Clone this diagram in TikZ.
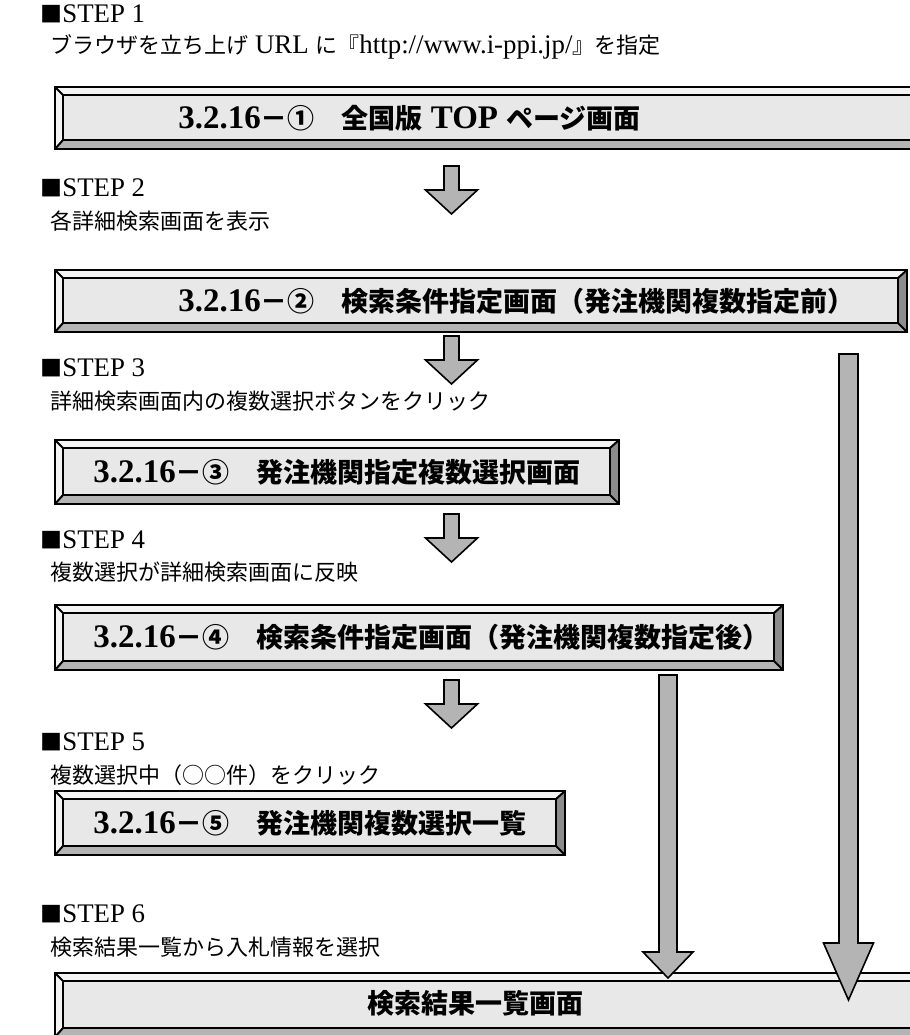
\documentclass[tikz,border=0pt]{standalone}
\usepackage{fontspec}
\setmainfont{Liberation Serif}[Scale=1.22]
\newfontfamily\jp{Noto Sans CJK JP}
\usetikzlibrary{calc}
\definecolor{boxfill}{HTML}{E8E8E8}
\definecolor{bevlight}{HTML}{F4F4F4}
\definecolor{bevdark}{HTML}{8C8C8C}
\definecolor{bevmid}{HTML}{B4B4B4}
\definecolor{arrowfill}{HTML}{B4B4B4}
\tikzset{
  boxline/.style={draw=black,line width=1pt},
  bevnode/.style={fill=boxfill,inner sep=0pt,outer sep=0pt,anchor=north west},
  steptext/.style={anchor=west,inner sep=0pt,font=\fontsize{11}{13}\selectfont},
  boxtext/.style={inner sep=0pt,font=\fontsize{13.5}{16}\selectfont\bfseries},
  blockarrow/.style={fill=arrowfill,draw=black,line width=0.8pt,line join=miter}
}
% bevel decoration around a named node
\newcommand\bevel[1]{%
  \coordinate (#1-a) at ($(#1.north west)+(8,8)$);
  \coordinate (#1-b) at ($(#1.north east)+(-9,8)$);
  \coordinate (#1-c) at ($(#1.south east)+(-9,-9)$);
  \coordinate (#1-d) at ($(#1.south west)+(8,-9)$);
  \fill[bevlight] (#1.north west) -- (#1.north east) -- (#1-b) -- (#1-a) -- cycle;
  \fill[bevlight] (#1.north west) -- (#1-a) -- (#1-d) -- (#1.south west) -- cycle;
  \fill[bevdark] (#1.north east) -- (#1.south east) -- (#1-c) -- (#1-b) -- cycle;
  \fill[bevmid] (#1.south west) -- (#1.south east) -- (#1-c) -- (#1-d) -- cycle;
  \draw[boxline] (#1-a) rectangle (#1-c);
  \draw[boxline] (#1.north west) -- (#1-a) (#1.north east) -- (#1-b)
                 (#1.south east) -- (#1-c) (#1.south west) -- (#1-d);
  \draw[boxline] (#1.north west) rectangle (#1.south east);
}
% block arrow: name, centre x, top, head top, tip, shaft half width, head half width
\newcommand\barrow[7]{%
  \coordinate (#1) at (#2,#3);
  \draw[blockarrow] ($(#1)+(-#6,0)$) -- ($(#1)+(#6,0)$) -- ($(#1)+(#6,#4-#3)$)
    -- ($(#1)+(#7,#4-#3)$) -- ($(#1)+(0,#5-#3)$) -- ($(#1)+(-#7,#4-#3)$)
    -- ($(#1)+(-#6,#4-#3)$) -- cycle;
}
\begin{document}
\begin{tikzpicture}[x=0.5pt,y=-0.5pt]
\useasboundingbox (0,0) rectangle (910,1035);
\clip (0,0) rectangle (910,1035);
\fill[white] (0,0) rectangle (910,1035);

% STEP texts
\node[steptext] (s1) at (40,14) {{\jp ■}STEP 1};
\node[steptext] (d1) at (50,47) {{\jp ブラウザを立ち上げ} URL {\jp に『}http://www.i-ppi.jp/{\jp 』を指定}};
\node[steptext] (s2) at (40,188) {{\jp ■}STEP 2};
\node[steptext] (d2) at (50,221) {{\jp 各詳細検索画面を表示}};
\node[steptext] (s3) at (40,368) {{\jp ■}STEP 3};
\node[steptext] (d3) at (50,401) {{\jp 詳細検索画面内の複数選択ボタンをクリック}};
\node[steptext] (s4) at (40,540) {{\jp ■}STEP 4};
\node[steptext] (d4) at (50,572) {{\jp 複数選択が詳細検索画面に反映}};
\node[steptext] (s5) at (40,742) {{\jp ■}STEP 5};
\node[steptext] (d5) at (50,775) {{\jp 複数選択中（○○件）をクリック}};
\node[steptext] (s6) at (40,914) {{\jp ■}STEP 6};
\node[steptext] (d6) at (50,947) {{\jp 検索結果一覧から入札情報を選択}};

% boxes
\node[bevnode,minimum width=440pt,minimum height=31pt] (b1) at (55,87) {};
\bevel{b1}
\node[boxtext,anchor=west] (t1) at (178,118) {3.2.16{\jp －①　全国版} TOP {\jp ページ画面}};

\node[bevnode,minimum width=426pt,minimum height=31pt] (b2) at (55,270) {};
\bevel{b2}
\node[boxtext,anchor=west] (t2) at (178,301) {3.2.16{\jp －②　検索条件指定画面（発注機関複数指定前）}};

\node[bevnode,minimum width=282pt,minimum height=32pt] (b3) at (55,440) {};
\bevel{b3}
\node[boxtext,anchor=west] (t3) at (93,472) {3.2.16{\jp －③　発注機関指定複数選択画面}};

\node[bevnode,minimum width=364pt,minimum height=32.5pt] (b4) at (55,605) {};
\bevel{b4}
\node[boxtext,anchor=west] (t4) at (93,637) {3.2.16{\jp －④　検索条件指定画面（発注機関複数指定後）}};

\node[bevnode,minimum width=255pt,minimum height=32pt] (b5) at (55,791) {};
\bevel{b5}
\node[boxtext,anchor=west] (t5) at (93,823) {3.2.16{\jp －⑤　発注機関複数選択一覧}};

\node[bevnode,minimum width=440pt,minimum height=32pt] (b6) at (55,973) {};
\bevel{b6}
\node[boxtext] (t6) at (475,1003) {{\jp 検索結果一覧画面}};

% arrows
\barrow{a1}{451.5}{166}{190}{214}{7.5}{26}
\barrow{a2}{451.5}{336}{360}{384}{7.5}{26}
\barrow{a3}{451.5}{514}{538}{562}{7.5}{26}
\barrow{a4}{451.5}{680}{704}{728}{7.5}{26}
\barrow{a5}{668}{675}{952}{978}{9}{25}
\barrow{a6}{848.5}{354}{943}{1000}{9.5}{25}
\end{tikzpicture}
\end{document}
